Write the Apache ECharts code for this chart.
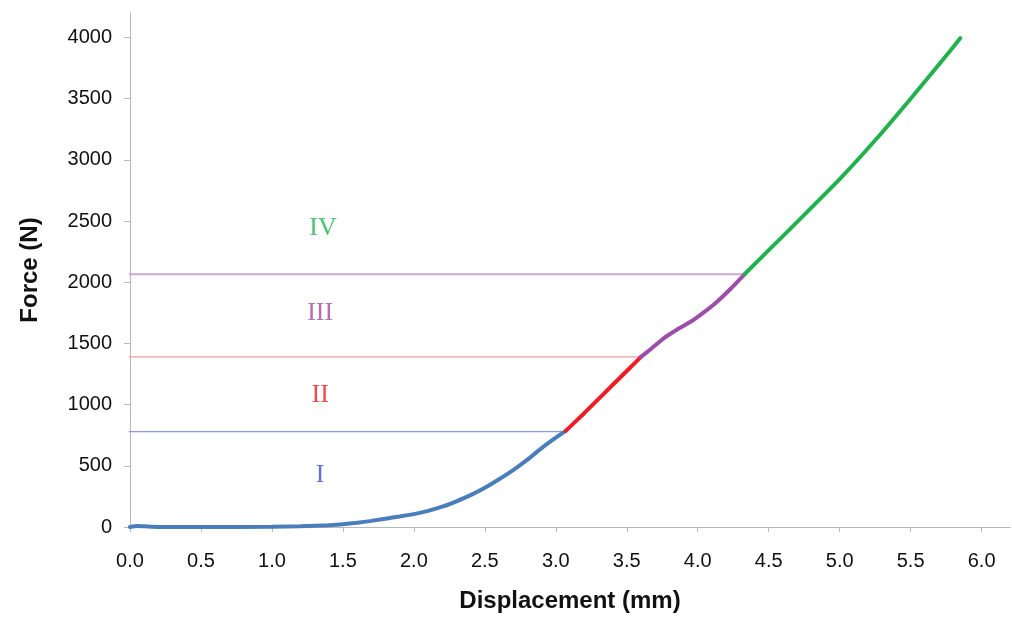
<!DOCTYPE html>
<html><head><meta charset="utf-8">
<script src="https://cdn.jsdelivr.net/npm/echarts@6/dist/echarts.min.js"></script>
<style>html,body{margin:0;padding:0;background:#fff}#c{width:1012px;height:618px}</style>
</head><body><div id="c"></div>
<script>
// Stage I (blue) [displacement mm, force N]
const stage1 = [[0,0],[0.05,8],[0.1,6],[0.2,1],[0.5,0],[1.0,2],[1.2,6],[1.4,15],[1.5,22],[1.6,34],[1.7,50],[1.8,68],[1.9,86],[2.0,105],[2.1,132],[2.2,166],[2.3,210],[2.4,260],[2.5,320],[2.6,390],[2.7,465],[2.8,550],[2.9,645],[3.0,730],[3.07,785]];
// Stage II (red)
const stage2 = [[3.07,785],[3.2,930],[3.3,1045],[3.4,1160],[3.5,1275],[3.6,1390]];
// Stage III (purple)
const stage3 = [[3.6,1390],[3.67,1455],[3.76,1542],[3.85,1610],[3.95,1677],[4.04,1752],[4.13,1835],[4.23,1945],[4.33,2065]];
// Stage IV (green)
const stage4 = [[4.33,2065],[4.5,2262],[4.75,2550],[5.0,2842],[5.25,3160],[5.5,3500],[5.75,3850],[5.85,3995]];
// threshold force levels
const thresholds = [780, 1390, 2065];
const thresholdEndX = [3.07, 3.6, 4.33];
// stage labels
const stageNames = ['I','II','III','IV'];
const stageLabelX = [1.34, 1.34, 1.34, 1.36];
const stageLabelY = [423, 1081, 1748, 2439];
// ticks
const xTicks = [0,0.5,1,1.5,2,2.5,3,3.5,4,4.5,5,5.5,6];
const yTicks = [0,500,1000,1500,2000,2500,3000,3500,4000];

const curveColors = ['#4a7ebb','#ee1c24','#9b4fa8','#22b14c'];
const labelColors = ['#3f48cc','#ed1c24','#a349a4','#22b14c'];
const threshColors = ['#8c97f2','#f49aa0','#d3a5d6'];
const threshWidths = [1.2,1.2,2];

const chart = echarts.init(document.getElementById('c'));
const series = [];
thresholds.forEach((t,i)=>{
  series.push({type:'line', data:[[-0.07,t],[thresholdEndX[i],t]], clip:false, showSymbol:false, silent:true,
    lineStyle:{color:threshColors[i], width:threshWidths[i], opacity:1}, z:1});
});
[stage1,stage2,stage3,stage4].forEach((d,i)=>{
  series.push({type:'line', data:d, showSymbol:false, smooth:0.15,
    lineStyle:{color:curveColors[i], width:4, cap:'round'}, z:3});
});
series.push({type:'scatter', symbolSize:0, silent:true,
  data: stageNames.map((n,i)=>({name:n, value:[stageLabelX[i], stageLabelY[i]],
    label:{show:true, position:'inside', formatter:n, color:labelColors[i],
      fontFamily:'Liberation Serif', fontSize:26}}))});

chart.setOption({
  animation:false,
  grid:{left:130, right:2, top:13, bottom:88},
  xAxis:{type:'value', min:0, max:6.2,
    name:'Displacement (mm)', nameLocation:'middle', nameGap:62,
    nameTextStyle:{fontFamily:'Liberation Sans', fontWeight:'bold', fontSize:24, color:'#111'},
    axisLine:{show:true, onZero:false, lineStyle:{color:'#b8b8b8', width:1}},
    axisTick:{show:true, length:5, customValues:xTicks, lineStyle:{color:'#b8b8b8'}},
    axisLabel:{customValues:xTicks, formatter:v=>v.toFixed(1), margin:24,
      fontFamily:'Liberation Sans', fontSize:20, color:'#111'},
    splitLine:{show:false}},
  yAxis:{type:'value', min:0, max:4200,
    name:'Force (N)', nameLocation:'middle', nameGap:88,
    nameTextStyle:{fontFamily:'Liberation Sans', fontWeight:'bold', fontSize:24, color:'#111'},
    axisLine:{show:true, lineStyle:{color:'#b8b8b8', width:1}},
    axisTick:{show:true, length:6, customValues:yTicks, lineStyle:{color:'#b8b8b8'}},
    axisLabel:{customValues:yTicks, formatter:v=>String(v), margin:18,
      fontFamily:'Liberation Sans', fontSize:20, color:'#111'},
    splitLine:{show:false}},
  series
});
</script></body></html>
